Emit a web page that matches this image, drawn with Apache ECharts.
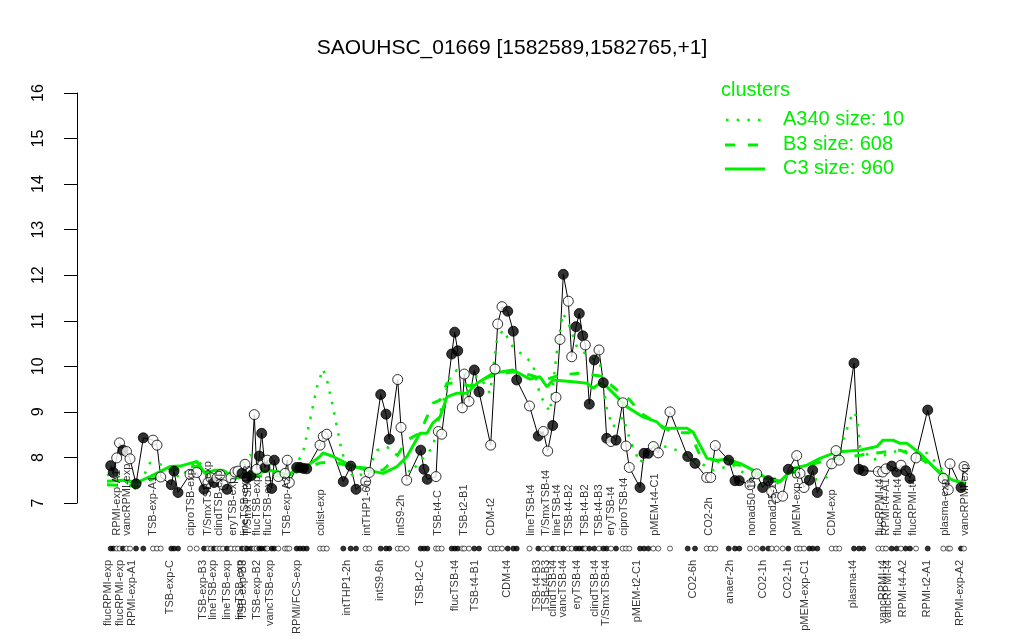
<!DOCTYPE html>
<html><head><meta charset="utf-8">
<script src="https://cdn.jsdelivr.net/npm/echarts@6/dist/echarts.min.js"></script>
<style>html,body{margin:0;padding:0;background:#fff}#c{width:1024px;height:640px}</style>
</head><body><div id="c"></div>
<script>
// Expression points: position along condition axis, value, filled (1) / open (0)
const pointPos = [110.7,113.3,116.7,119.5,123,126.5,130,136,143.3,153,157,160.7,171.3,174,178,190,196.7,204,208,211,214,217,220,223,227,231,235,238,242,245,247,251,254.3,256.7,259.3,261.7,265,267.3,271.7,274.3,278.3,285,287.3,289.3,296.7,300,303.3,306.7,320,323.3,326.7,343.3,350.7,356,365.7,369.3,380.7,386,389.3,397.7,401,406.7,420.7,424,427.3,436,438.3,441.7,451.7,454.7,457.7,462.3,464.3,469,474.3,479,490.7,495,497.7,502,507.7,513.3,516.7,529.5,538.3,543.3,547.7,552.7,556,560,563.3,568.3,571.7,576,579.3,582.7,585.3,589.3,594.3,599,603.3,606.7,611,616,622.7,626,629.3,640,644,648.3,653.3,658.3,670,687.7,695,706.7,710.7,715.3,728.7,735,739.3,750,756.7,762.7,768.3,771.7,776.7,782.7,788.3,796.7,800,804,809.3,812.7,817.3,831.7,836,839.3,854,859,863.3,878.3,882.7,886,891.7,896.7,901,905.7,910,916,927.7,943.3,948.3,950,961,964];
const pointVal = [7.82,7.67,7.99,8.32,8.16,8.13,7.97,7.42,8.43,8.38,8.27,7.57,7.40,7.70,7.23,7.63,7.67,7.30,7.45,7.55,7.45,7.55,7.62,7.40,7.30,7.55,7.68,7.70,7.65,7.85,7.55,7.60,8.94,7.74,8.03,8.53,7.78,7.94,7.32,7.94,7.58,7.65,7.94,7.45,7.78,7.78,7.76,7.75,8.27,8.46,8.51,7.47,7.81,7.30,7.47,7.67,9.38,8.95,8.40,9.71,8.66,7.50,8.16,7.74,7.52,7.58,8.57,8.51,10.27,10.75,10.34,9.09,9.83,9.23,9.92,9.44,8.27,9.94,10.93,11.31,11.21,10.77,9.70,9.13,8.47,8.57,8.14,8.70,9.32,10.59,12.02,11.43,10.21,10.87,11.16,10.67,10.47,9.17,10.14,10.36,9.64,8.42,8.35,8.38,9.20,8.25,7.78,7.34,8.09,8.09,8.24,8.10,9.00,8.02,7.87,7.56,7.56,8.26,7.94,7.49,7.49,7.40,7.64,7.34,7.49,7.25,7.12,7.15,7.74,8.04,7.65,7.34,7.50,7.72,7.23,7.86,8.15,7.94,10.07,7.74,7.71,7.69,7.68,7.75,7.81,7.68,7.83,7.71,7.54,7.99,9.04,7.54,7.29,7.86,7.34,7.80];
const pointFilled = [1,1,0,0,1,0,0,1,1,0,0,0,1,1,1,0,0,1,0,0,1,0,0,0,1,0,0,0,1,0,1,1,0,0,1,1,1,0,1,1,0,0,0,0,1,1,1,1,0,0,0,1,1,1,0,0,1,1,1,0,0,0,1,1,1,0,0,0,1,1,1,0,0,0,1,1,0,0,0,0,1,1,1,0,1,0,0,1,0,0,1,0,0,1,1,1,0,1,1,0,1,1,0,1,0,0,0,1,1,1,0,0,0,1,1,0,0,0,1,1,1,0,0,1,1,0,0,0,1,0,0,0,1,1,1,0,0,0,1,1,1,0,0,0,1,1,0,1,1,0,1,0,0,0,1,0];

// Cluster profiles (position, value)
const c3Pos = [107,123,137,150,170,180,190,197,205,215,223,233,243,257,270,290,297,307,320,323,333,350,367,383,397,407,420,427,433,440,447,457,467,477,493,513,530,540,547,553,573,587,593,600,607,617,627,643,657,663,687,693,700,707,717,727,740,753,767,780,793,807,820,833,843,860,877,883,893,900,907,920,930,940,953,966];
const c3Val = [7.48,7.50,7.45,7.58,7.80,7.81,7.87,7.91,7.65,7.72,7.72,7.58,7.66,7.65,7.72,7.61,7.81,7.81,8.02,8.10,8.02,7.83,7.72,7.65,7.80,8.02,8.53,8.53,8.76,8.89,9.33,9.41,9.41,9.63,9.85,9.92,9.72,9.77,9.55,9.70,9.66,9.63,9.52,9.63,9.55,9.33,9.11,8.89,8.78,8.64,8.64,8.56,8.27,7.98,7.94,7.96,7.87,7.72,7.54,7.47,7.76,7.83,7.98,8.09,8.13,8.16,8.24,8.38,8.38,8.31,8.31,8.09,7.87,7.65,7.50,7.43];
const b3Pos = [107,137,150,170,197,205,233,257,290,300,320,333,350,383,397,407,420,433,440,447,457,470,480,495,513,530,545,560,580,600,617,630,640,660,673,690,700,720,740,760,780,800,820,840,860,877,900,920,940,966];
const b3Val = [7.40,7.37,7.50,7.72,7.81,7.59,7.55,7.59,7.59,7.72,7.88,7.90,7.81,7.72,8.03,8.38,8.54,9.19,9.26,9.63,9.63,9.57,9.70,9.81,9.88,9.81,9.70,9.81,9.85,9.79,9.48,9.26,8.98,8.71,8.54,8.54,8.05,7.90,7.83,7.61,7.48,7.77,7.90,7.99,8.05,8.10,8.16,7.99,7.68,7.37];
const a340Pos = [107,113,137,150,165,180,197,215,235,250,262,275,290,303,310,317,323,327,333,342,353,367,377,387,393,403,410,433,440,450,457,470,480,490,497,503,513,527,533,540,550,557,563,570,577,587,600,607,613,623,630,640,650,660,677,700,713,733,767,787,800,813,827,843,853,857,860,873,890,900,913,927,940,953,963];
const a340Val = [7.61,7.66,7.29,7.88,7.83,7.55,7.94,7.55,7.72,8.05,7.99,7.72,7.61,8.10,8.82,9.55,9.94,9.70,9.11,8.10,7.57,7.66,8.16,8.23,8.12,7.94,7.66,8.23,8.98,9.77,9.92,9.81,9.77,9.41,10.58,10.80,10.42,10.18,10.03,9.37,9.00,10.36,11.17,10.86,10.42,10.25,10.07,9.04,8.67,8.89,8.38,7.88,8.23,8.27,8.16,7.88,7.72,7.83,7.29,7.57,7.66,7.50,7.57,8.38,9.00,8.89,8.23,7.94,8.10,8.16,8.10,8.10,7.79,7.50,7.43];

// Condition labels drawn inside the plot (upper row) and under the rug (lower row)
const innerLabelPos = [117,127,153,191,208,219,233,245,248,257,268,287,321,367,401,438,464,491,531,546,557,569,585,599,611,624,655,709,752,773,797,832,880,886,898,913,945,965];
const innerLabelText = ["RPMI-exp-A1","vancRPMI-exp","TSB-exp-A1","ciproTSB-exp","T/SmxTSB-exp","clindTSB-exp","eryTSB-exp","lineTSB-exp","T/SmxTSB-B3","flucTSB-exp","flucTSB-exp","TSB-exp-A2","colist-exp","intTHP1-6h","intS9-2h","TSB-t4-C","TSB-t2-B1","CDM-t2","lineTSB-t4","T/SmxTSB-t4","lineTSB-t4","TSB-t4-B2","TSB-t4-B2","TSB-t4-B3","eryTSB-t4","ciproTSB-t4","pMEM-t4-C1","CO2-2h","nonad50-1h","nonad25-1h","pMEM-exp-C1","CDM-exp","flucRPMI-t4","RPMI-t4-A1","flucRPMI-t4","flucRPMI-t4","plasma-exp","vancRPMI-exp"];
const bottomLabelPos = [108.3,120,131.7,170,203.3,213.3,226.7,240,243,256.7,270,296.7,346.7,380,420,455,475,506.7,536.7,545.7,553.3,563.3,576.7,595,606,636.7,693.3,730,763.3,788.3,805,853.3,883.3,888.3,903.3,926.7,960];
const bottomLabelText = ["flucRPMI-exp","flucRPMI-exp","RPMI-exp-A1","TSB-exp-C","TSB-exp-B3","lineTSB-exp","lineTSB-exp","lineTSB-exp","TSB-exp-B3","TSB-exp-B2","vancTSB-exp","RPMI/FCS-exp","intTHP1-2h","intS9-6h","TSB-t2-C","flucTSB-t4","TSB-t4-B1","CDM-t4","TSB-t4-B3","TSB-t4-B3","clindTSB-t4","vancTSB-t4","eryTSB-t4","clindTSB-t4","T/SmxTSB-t4","pMEM-t2-C1","CO2-6h","anaer-2h","CO2-1h","CO2-1h","pMEM-exp-C1","plasma-t4","vancRPMI-t4","vancRPMI-t4","RPMI-t4-A2","RPMI-t2-A1","RPMI-exp-A2"];
const yTicks = [7,8,9,10,11,12,13,14,15,16];

const RUG_Y = 6.0, INNER_LABEL_Y = 6.28, BOTTOM_LABEL_Y = 5.75;
const GREEN = '#00ee00';
const FONT = '"Liberation Sans", Arial, Helvetica, sans-serif';

const pts = pointPos.map((x, i) => ({
  value: [x, pointVal[i]],
  itemStyle: pointFilled[i] ? {color: '#000', borderColor: '#000', borderWidth: 1} : {color: '#fff', borderColor: '#000', borderWidth: 1}
}));
const rug = pointPos.map((x, i) => ({
  value: [x, RUG_Y],
  itemStyle: pointFilled[i] ? {color: '#000', borderColor: '#000', borderWidth: 0.8} : {color: '#fff', borderColor: '#000', borderWidth: 0.8}
}));
const zip = (a, b) => a.map((x, i) => [x, b[i]]);

const chart = echarts.init(document.getElementById('c'), null, {renderer: 'canvas'});
chart.setOption({
  animation: false,
  backgroundColor: '#fff',
  title: {
    text: 'SAOUHSC_01669 [1582589,1582765,+1]',
    left: 'center', top: 33,
    textStyle: {fontFamily: FONT, fontSize: 21, fontWeight: 'normal', color: '#000'}
  },
  grid: {left: 77, right: 24, top: 93, bottom: 137},
  xAxis: {type: 'value', min: 77, max: 1000, show: false},
  yAxis: {
    type: 'value', min: yTicks[0], max: yTicks[yTicks.length - 1], interval: 1,
    axisLine: {show: true, lineStyle: {color: '#000', width: 1}},
    axisTick: {show: true, length: 13, lineStyle: {color: '#000'}},
    splitLine: {show: false},
    axisLabel: {rotate: 90, margin: 30, fontFamily: FONT, fontSize: 16, color: '#000'}
  },
  graphic: [
    {type: 'text', left: 721, top: 80, style: {text: 'clusters', fill: GREEN, font: '20px ' + FONT}},
    {type: 'line', shape: {x1: 726, y1: 120, x2: 762, y2: 120}, style: {stroke: GREEN, lineWidth: 2.5, lineDash: [2.5, 8.2]}},
    {type: 'text', left: 783, top: 109, style: {text: 'A340 size: 10', fill: GREEN, font: '20px ' + FONT}},
    {type: 'line', shape: {x1: 725, y1: 145, x2: 759, y2: 145}, style: {stroke: GREEN, lineWidth: 3, lineDash: [10, 13]}},
    {type: 'text', left: 783, top: 134, style: {text: 'B3 size: 608', fill: GREEN, font: '20px ' + FONT}},
    {type: 'line', shape: {x1: 725, y1: 169, x2: 765, y2: 169}, style: {stroke: GREEN, lineWidth: 3}},
    {type: 'text', left: 783, top: 158, style: {text: 'C3 size: 960', fill: GREEN, font: '20px ' + FONT}}
  ],
  series: [
    {type: 'line', data: zip(pointPos, pointVal), symbol: 'none', lineStyle: {color: '#000', width: 1}, z: 2, silent: true},
    {type: 'line', data: zip(a340Pos, a340Val), symbol: 'none', lineStyle: {color: GREEN, width: 2.5, type: [2.5, 8.2]}, z: 3, silent: true},
    {type: 'line', data: zip(b3Pos, b3Val), symbol: 'none', lineStyle: {color: GREEN, width: 3, type: [10, 12]}, z: 3, silent: true},
    {type: 'line', data: zip(c3Pos, c3Val), symbol: 'none', lineStyle: {color: GREEN, width: 3}, z: 3, silent: true},
    {type: 'scatter', data: pts, symbol: 'circle', symbolSize: 10, z: 4, silent: true},
    {type: 'scatter', data: rug, symbol: 'circle', symbolSize: 5, clip: false, z: 4, silent: true},
    {type: 'scatter', clip: false, symbolSize: 0, z: 5, silent: true,
     data: innerLabelPos.map((x, i) => ({value: [x, INNER_LABEL_Y], name: innerLabelText[i]})),
     label: {show: true, position: 'inside', formatter: p => p.name, rotate: 90, align: 'left', verticalAlign: 'middle',
             fontFamily: FONT, fontSize: 11, color: '#000'}},
    {type: 'scatter', clip: false, symbolSize: 0, z: 5, silent: true,
     data: bottomLabelPos.map((x, i) => ({value: [x, BOTTOM_LABEL_Y], name: bottomLabelText[i]})),
     label: {show: true, position: 'inside', formatter: p => p.name, rotate: 90, align: 'right', verticalAlign: 'middle',
             fontFamily: FONT, fontSize: 11, color: '#000'}}
  ]
});
</script></body></html>
